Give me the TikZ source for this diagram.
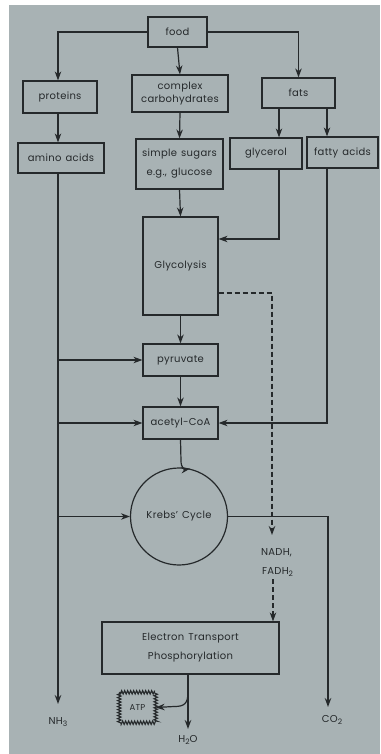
\documentclass[tikz,border=0pt]{standalone}
\usepackage{fontspec}
\setmainfont{Poppins}[LetterSpace=3,WordSpace=1.4]
\usetikzlibrary{arrows.meta,decorations.pathmorphing}
\definecolor{bg}{HTML}{A8B2B4}
\definecolor{ink}{HTML}{25292B}
\newcommand{\subd}[1]{\raisebox{-0.45ex}{\fontsize{7.5}{8}\selectfont #1}}
\begin{document}
\begin{tikzpicture}[x=1pt,y=-1pt,
  box/.style={draw=ink, line width=1.2pt, text=ink, inner sep=0pt, align=center,
              font=\fontsize{10}{13}\selectfont},
  lbl/.style={text=ink, inner sep=0pt, align=center, font=\fontsize{10}{13}\selectfont},
  arr/.style={draw=ink, line width=1.2pt, -{Stealth[length=9pt,width=6.5pt]}},
  dsh/.style={arr, dash pattern=on 5pt off 3pt}]
\path[fill=white] (0,0) rectangle (380,754);
\path[fill=bg] (9,5) rectangle (380,754);
\useasboundingbox (0,0) rectangle (380,754);

\node[box, minimum width=59pt, minimum height=30pt] (food) at (177.5,32) {food};
\node[box, minimum width=74pt, minimum height=32pt] (proteins) at (60,97) {proteins};
\node[box, minimum width=96pt, minimum height=37pt] (complex) at (180,93.5) {complex\\carbohydrates};
\node[box, minimum width=73pt, minimum height=30pt] (fats) at (298.5,93) {fats};
\node[box, minimum width=86pt, minimum height=30pt] (amino) at (61,158) {amino acids};
\node[box, minimum width=87pt, minimum height=50pt, font=\fontsize{10}{19}\selectfont] (sugars) at (179.5,164) {simple sugars\\e.g., glucose};
\node[box, minimum width=72pt, minimum height=31pt] (glycerol) at (266,153.5) {glycerol};
\node[box, minimum width=71pt, minimum height=31pt] (fatty) at (342.5,152.5) {fatty acids};
\node[box, minimum width=75pt, minimum height=98pt] (glyco) at (180.5,266) {Glycolysis};
\node[box, minimum width=75pt, minimum height=32pt] (pyruvate) at (180.5,360) {pyruvate};
\node[box, minimum width=75pt, minimum height=32pt] (acetyl) at (180.5,423) {acetyl-CoA};
\node[box, circle, minimum size=97pt] (krebs) at (179,516.5) {Krebs'\ Cycle};
\node[box, minimum width=177pt, minimum height=52pt, font=\fontsize{10}{19}\selectfont] (etp) at (190.5,648) {Electron Transport\\Phosphorylation};
\node[lbl, minimum width=36pt, minimum height=30pt, font=\fontsize{8.5}{10}\selectfont] (atp) at (137.5,707.5) {ATP};
\draw[ink, line width=1.1pt, decorate, decoration={zigzag, segment length=3pt, amplitude=1.7pt}]
  (atp.north west) rectangle (atp.south east);

\node[lbl] (nadh) at (276.5,553) {NADH,};
\node[lbl] (fadh) at (277.5,572) {FADH\subd{2}};
\node[lbl] (nh3) at (58,722) {NH\subd{3}};
\node[lbl] (co2) at (332,720) {CO\subd{2}};
\node[lbl] (h2o) at (188,740) {H\subd{2}O};

\coordinate (ax) at (58,0);
\coordinate (gx) at (279,0);
\coordinate (fx) at (327,0);
\coordinate (hx) at (188,0);
\coordinate (nh3top) at (58,704);
\coordinate (co2top) at (328,707);
\coordinate (h2otop) at (188,729);
\coordinate (n1) at (272,535);
\coordinate (n2) at (273,579);
\coordinate (ak) at (181,461);
\coordinate (hb) at (188,692);

% food branches
\draw[arr] (food.west) -| (proteins.north -| ax);
\draw[arr] (food.south) -- (complex.north);
\draw[arr] (food.east) -| (fats.north);
\draw[arr] (proteins.south -| ax) -- (amino.north -| ax);
\draw[arr] (complex.south) -- (sugars.north);
\draw[arr] (fats.south -| gx) -- (glycerol.north -| gx);
\draw[arr] (fats.south -| fx) -- (fatty.north -| fx);

% carbohydrate path
\draw[arr] (sugars.south) -- (glyco.north);
\draw[arr] (glycerol.south -| gx) |- ([yshift=27pt]glyco.east);
\draw[arr] (glyco.south) -- (pyruvate.north);
\draw[arr] (pyruvate.south) -- (acetyl.north);
\draw[arr] (fatty.south -| fx) |- (acetyl.east);
\draw[arr] (acetyl.south) -- (ak) .. controls (181,468) and (185,469.5) .. (krebs.77);

% amino acid line
\draw[arr] (amino.south -| ax) -- (nh3top);
\draw[arr] (pyruvate.west -| ax) -- (pyruvate.west);
\draw[arr] (acetyl.west -| ax) -- (acetyl.west);
\draw[arr] (krebs.west -| ax) -- (krebs.west);

% Krebs to CO2
\draw[arr] (krebs.east) -| (co2top);

% dashed NADH path
\draw[dsh] ([yshift=-27pt]glyco.east) -| (n1);
\draw[dsh] (n2) -- (etp.north -| n2);

% ETP outputs
\draw[arr] (etp.south -| hx) -- (h2otop);
\draw[arr] (hb) .. controls (188,704) and (184,706.5) .. (174,706.5) -- (atp.east);
\end{tikzpicture}
\end{document}
